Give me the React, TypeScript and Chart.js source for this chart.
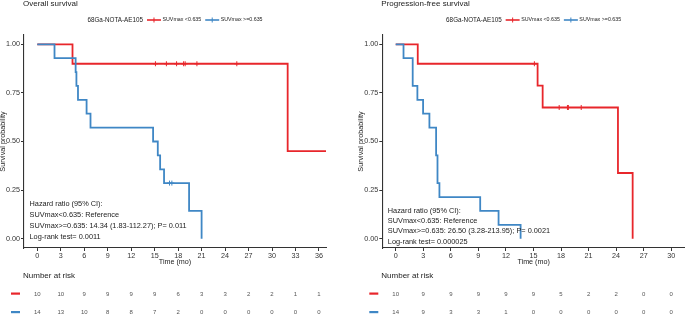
import React, { useEffect, useRef } from 'react';
import { Chart, registerables } from 'chart.js';

Chart.register(...registerables);

const RED = '#E8262B';
const BLUE = '#3F87C5';
const INK = '#222222';
const FONT = '"Liberation Sans", Arial, Helvetica, sans-serif';

// ---------- Overall survival ----------
const osTicks = [0, 3, 6, 9, 12, 15, 18, 21, 24, 27, 30, 33, 36];
const osLowTimes = [0, 4.5, 32.0, 36.9];
const osLowSurv = [1, 0.9, 0.45, 0.45];
const osLowCensorTimes = [15.1, 16.5, 17.8, 18.7, 18.9, 20.4, 25.5];
const osLowCensorSurv = [0.9, 0.9, 0.9, 0.9, 0.9, 0.9, 0.9];
const osHighTimes = [0, 2.2, 4.9, 5.0, 5.2, 6.3, 6.8, 14.8, 15.4, 15.7, 16.2, 19.4, 21.0];
const osHighSurv = [1, 0.929, 0.857, 0.786, 0.714, 0.643, 0.571, 0.5, 0.429, 0.357, 0.286, 0.143, 0];
const osHighCensorTimes = [16.9, 17.2];
const osHighCensorSurv = [0.286, 0.286];
const osRiskLow = [10, 10, 9, 9, 9, 9, 6, 3, 3, 2, 2, 1, 1];
const osRiskHigh = [14, 13, 10, 8, 8, 7, 2, 0, 0, 0, 0, 0, 0];
const osHazard = [
  'Hazard ratio (95% CI):',
  'SUVmax<0.635: Reference',
  'SUVmax>=0.635: 14.34 (1.83-112.27); P= 0.011',
  'Log-rank test= 0.0011',
];

// ---------- Progression-free survival ----------
const pfsTicks = [0, 3, 6, 9, 12, 15, 18, 21, 24, 27, 30];
const pfsLowTimes = [0, 2.4, 15.45, 16.0, 24.2, 25.8];
const pfsLowSurv = [1, 0.9, 0.788, 0.675, 0.338, 0];
const pfsLowCensorTimes = [15.1, 17.8, 18.7, 18.8, 20.2];
const pfsLowCensorSurv = [0.9, 0.675, 0.675, 0.675, 0.675];
const pfsHighTimes = [0, 0.85, 1.85, 2.36, 2.98, 3.67, 4.4, 4.55, 4.76, 9.2, 11.2, 13.6];
const pfsHighSurv = [1, 0.929, 0.786, 0.714, 0.643, 0.571, 0.429, 0.286, 0.214, 0.143, 0.071, 0];
const pfsHighCensorTimes: number[] = [];
const pfsHighCensorSurv: number[] = [];
const pfsRiskLow = [10, 9, 9, 9, 9, 9, 5, 2, 2, 0, 0];
const pfsRiskHigh = [14, 9, 3, 3, 1, 0, 0, 0, 0, 0, 0];
const pfsHazard = [
  'Hazard ratio (95% CI):',
  'SUVmax<0.635: Reference',
  'SUVmax>=0.635: 26.50 (3.28-213.95); P= 0.0021',
  'Log-rank test= 0.000025',
];

const yTicks = [0, 0.25, 0.5, 0.75, 1];
const legendTitle = '68Ga-NOTA-AE105';
const legendLabels = ['SUVmax <0.635', 'SUVmax >=0.635'];

type PanelCfg = {
  title: string;
  ticks: number[];
  xMin: number;
  xMax: number;
  plotLeft: number;
  padRight: number;
  lowT: number[]; lowS: number[];
  lowCT: number[]; lowCS: number[];
  highT: number[]; highS: number[];
  highCT: number[]; highCS: number[];
  riskLow: number[]; riskHigh: number[];
  hazard: string[];
  hazardY: number[];
};

const osCfg: PanelCfg = {
  title: 'Overall survival', ticks: osTicks, xMin: -1.7, xMax: 36.9, plotLeft: 24, padRight: 16,
  lowT: osLowTimes, lowS: osLowSurv, lowCT: osLowCensorTimes, lowCS: osLowCensorSurv,
  highT: osHighTimes, highS: osHighSurv, highCT: osHighCensorTimes, highCS: osHighCensorSurv,
  riskLow: osRiskLow, riskHigh: osRiskHigh, hazard: osHazard, hazardY: [204, 215.3, 226, 236.7],
};
const pfsCfg: PanelCfg = {
  title: 'Progression-free survival', ticks: pfsTicks, xMin: -1.46, xMax: 31.5, plotLeft: 40.3, padRight: 0,
  lowT: pfsLowTimes, lowS: pfsLowSurv, lowCT: pfsLowCensorTimes, lowCS: pfsLowCensorSurv,
  highT: pfsHighTimes, highS: pfsHighSurv, highCT: pfsHighCensorTimes, highCS: pfsHighCensorSurv,
  riskLow: pfsRiskLow, riskHigh: pfsRiskHigh, hazard: pfsHazard, hazardY: [211, 220.7, 231, 241.7],
};

const xy = (t: number[], s: number[]) => t.map((v, i) => ({ x: v, y: s[i] }));

function makeTextPlugin(cfg: PanelCfg) {
  return {
    id: 'kmText',
    afterDraw(chart: any) {
      const ctx: CanvasRenderingContext2D = chart.ctx;
      const a = chart.chartArea;
      const xs = chart.scales.x;
      const cx = (a.left + a.right) / 2;
      ctx.save();
      ctx.fillStyle = INK;
      ctx.textBaseline = 'middle';

      // title
      ctx.font = `8px ${FONT}`;
      ctx.textAlign = 'left';
      ctx.fillText(cfg.title, a.left - 1, 4);

      // legend
      const titleFont = `6.3px ${FONT}`;
      const labFont = `5.3px ${FONT}`;
      ctx.font = titleFont;
      const tw = ctx.measureText(legendTitle).width;
      ctx.font = labFont;
      const l1 = ctx.measureText(legendLabels[0]).width;
      const l2 = ctx.measureText(legendLabels[1]).width;
      const sw = 14;
      const total = tw + 4 + sw + 1.5 + l1 + 4 + sw + 1.5 + l2;
      let lx = cx - total / 2;
      const ly = 20;
      ctx.font = titleFont;
      ctx.fillStyle = INK;
      ctx.fillText(legendTitle, lx, ly);
      lx += tw + 4;
      const sample = (x: number, col: string) => {
        ctx.strokeStyle = col;
        ctx.lineWidth = 1.6;
        ctx.beginPath();
        ctx.moveTo(x, ly); ctx.lineTo(x + sw, ly);
        ctx.stroke();
        ctx.lineWidth = 1;
        ctx.beginPath();
        ctx.moveTo(x + sw / 2, ly - 2.5); ctx.lineTo(x + sw / 2, ly + 2.5);
        ctx.stroke();
      };
      sample(lx, RED);
      lx += sw + 1.5;
      ctx.font = labFont;
      ctx.fillStyle = INK;
      ctx.fillText(legendLabels[0], lx, ly);
      lx += l1 + 4;
      sample(lx, BLUE);
      lx += sw + 1.5;
      ctx.fillStyle = INK;
      ctx.fillText(legendLabels[1], lx, ly);

      // y axis title
      ctx.save();
      ctx.translate(a.left - 21, (a.top + a.bottom) / 2);
      ctx.rotate(-Math.PI / 2);
      ctx.font = `7.2px ${FONT}`;
      ctx.textAlign = 'center';
      ctx.fillText('Survival probability', 0, 0);
      ctx.restore();

      // x axis title
      ctx.font = `7.2px ${FONT}`;
      ctx.textAlign = 'center';
      ctx.fillText('Time (mo)', cx, 262.3);

      // hazard text
      ctx.textAlign = 'left';
      ctx.font = `7.35px ${FONT}`;
      cfg.hazard.forEach((line, i) => ctx.fillText(line, a.left + 5.5, cfg.hazardY[i]));

      // number at risk
      ctx.font = `8px ${FONT}`;
      ctx.fillText('Number at risk', a.left - 1, 275.7);
      ctx.fillStyle = RED;
      ctx.fillRect(a.left - 13, 292.5, 9, 2.2);
      ctx.fillStyle = BLUE;
      ctx.fillRect(a.left - 13, 311, 9, 2.2);
      ctx.font = `6px ${FONT}`;
      ctx.textAlign = 'center';
      ctx.fillStyle = '#555555';
      cfg.ticks.forEach((t, i) => {
        const px = xs.getPixelForValue(t);
        ctx.fillText(String(cfg.riskLow[i]), px, 294);
        ctx.fillText(String(cfg.riskHigh[i]), px, 312.3);
      });
      ctx.restore();
    },
  };
}

function Panel({ cfg, left, width }: { cfg: PanelCfg; left: number; width: number }) {
  const ref = useRef<HTMLCanvasElement>(null);
  useEffect(() => {
    const canvas = ref.current!;
    const lineDs = (t: number[], s: number[], col: string) => ({
      data: xy(t, s),
      borderColor: col,
      backgroundColor: col,
      borderWidth: 1.8,
      stepped: true,
      pointRadius: 0,
      fill: false,
      tension: 0,
    });
    const censorDs = (t: number[], s: number[], col: string) => ({
      data: xy(t, s),
      showLine: false,
      borderColor: col,
      backgroundColor: col,
      pointStyle: 'cross',
      pointRadius: 2.5,
      pointBorderWidth: 1,
      pointBorderColor: col,
    });
    const axisCommon = {
      grid: { display: true, drawOnChartArea: false, drawTicks: true, tickLength: 3, color: '#333333', lineWidth: 1 },
      border: { display: true, color: '#333333', width: 1.1 },
    };
    const chart = new Chart(canvas, {
      type: 'line',
      data: {
        datasets: [
          lineDs(cfg.highT, cfg.highS, BLUE),
          censorDs(cfg.highCT, cfg.highCS, BLUE),
          lineDs(cfg.lowT, cfg.lowS, RED),
          censorDs(cfg.lowCT, cfg.lowCS, RED),
        ] as any,
      },
      options: {
        responsive: false,
        animation: false,
        devicePixelRatio: 1,
        events: [],
        layout: { autoPadding: false, padding: { left: 0, right: cfg.padRight, top: 35, bottom: 0 } },
        plugins: { legend: { display: false }, tooltip: { enabled: false }, title: { display: false } },
        scales: {
          x: {
            type: 'linear',
            min: cfg.xMin,
            max: cfg.xMax,
            afterBuildTicks: (s: any) => { s.ticks = cfg.ticks.map((v) => ({ value: v })); },
            afterFit: (s: any) => { s.height = 67; },
            ...axisCommon,
            ticks: { font: { size: 7.2, family: FONT }, color: '#333333', padding: 1, maxRotation: 0, autoSkip: false },
          },
          y: {
            type: 'linear',
            min: -0.048,
            max: 1.048,
            afterBuildTicks: (s: any) => { s.ticks = yTicks.map((v) => ({ value: v })); },
            afterFit: (s: any) => { s.width = cfg.plotLeft; },
            ...axisCommon,
            ticks: { font: { size: 7.2, family: FONT }, color: '#333333', padding: 1, callback: (v: any) => Number(v).toFixed(2) },
          },
        },
      } as any,
      plugins: [makeTextPlugin(cfg)],
    });
    return () => chart.destroy();
  }, [cfg]);
  return (
    <canvas
      ref={ref}
      width={width}
      height={315}
      style={{ position: 'absolute', left, top: 0, width, height: 315, display: 'block' }}
    />
  );
}

export default function App() {
  return (
    <div style={{ position: 'absolute', left: 0, top: 0, width: 685, height: 315, background: '#ffffff', overflow: 'hidden' }}>
      <Panel cfg={osCfg} left={0} width={342} />
      <Panel cfg={pfsCfg} left={342} width={343} />
    </div>
  );
}
